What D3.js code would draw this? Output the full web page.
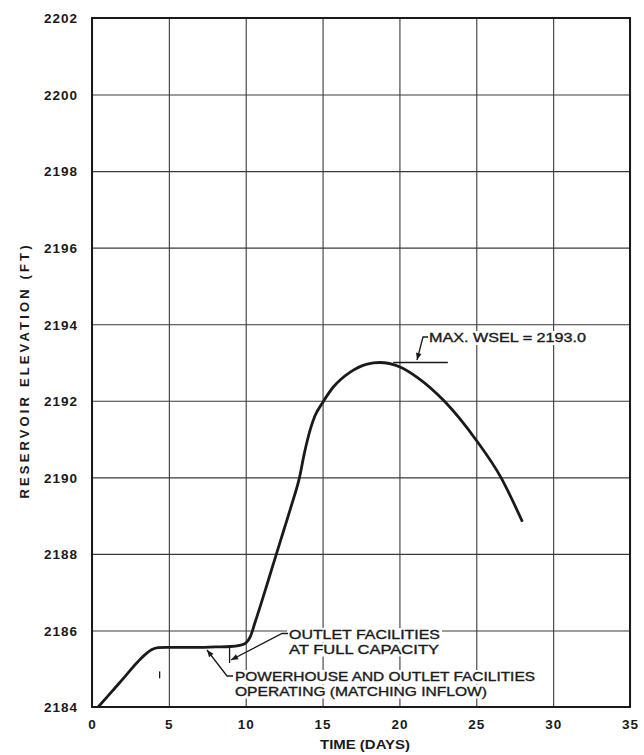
<!DOCTYPE html>
<html><head><meta charset="utf-8">
<script src="https://cdn.jsdelivr.net/npm/d3@7"></script>
<style>
html,body{margin:0;padding:0;background:#fff;}
svg{display:block;}
</style></head>
<body>
<svg id="chart" width="644" height="755"></svg>
<script>
// ---- data ----
const xTicks = [0, 5, 10, 15, 20, 25, 30, 35];
const yTicks = [2184, 2186, 2188, 2190, 2192, 2194, 2196, 2198, 2200, 2202];
const days = [0.4, 1.0, 2.0, 3.0, 3.55, 3.9, 4.3, 4.8, 6.0, 7.0, 8.0, 9.0, 9.6, 10.0, 10.3, 10.6, 11.0, 11.5, 12.0, 12.5, 13.0, 13.5, 13.8, 14.0, 14.5, 15.0, 15.7, 16.8, 17.9, 18.7, 20.0, 21.2, 22.9, 25.0, 26.6, 28.0];
const elev = [2184.0, 2184.27, 2184.73, 2185.19, 2185.40, 2185.5, 2185.55, 2185.56, 2185.56, 2185.56, 2185.57, 2185.58, 2185.61, 2185.67, 2185.84, 2186.2, 2186.7, 2187.35, 2188.0, 2188.65, 2189.3, 2190.0, 2190.6, 2190.95, 2191.6, 2191.95, 2192.36, 2192.75, 2192.96, 2193.0, 2192.89, 2192.6, 2192.0, 2190.97, 2190.0, 2188.84];
const xTitle = "TIME (DAYS)";
const yTitle = "RESERVOIR ELEVATION (FT)";
const maxLabel = "MAX. WSEL = 2193.0";
const outletLabel = ["OUTLET FACILITIES", "AT FULL CAPACITY"];
const powerLabel = ["POWERHOUSE AND OUTLET FACILITIES", "OPERATING  (MATCHING INFLOW)"];
const maxWsel = 2193.0;
const outletDay = 8.95;

// ---- layout ----
const L = 92, R = 630, T = 18, B = 707;
const svg = d3.select("#chart");
const x = d3.scaleLinear().domain([0, 35]).range([L, R]);
const y = d3.scaleLinear().domain([2184, 2202]).range([B, T]);
const font = "'Liberation Sans', Arial, sans-serif";
const ink = "#1a1a1a";

svg.append("defs").append("marker")
  .attr("id", "arr").attr("viewBox", "0 0 10 10").attr("refX", 10).attr("refY", 5)
  .attr("markerWidth", 9).attr("markerHeight", 7).attr("markerUnits", "userSpaceOnUse")
  .attr("orient", "auto")
  .append("path").attr("d", "M0,1 L10,5 L0,9 Z").attr("fill", ink);

// gridlines via axes
const gx = svg.append("g").attr("transform", `translate(0,${B})`)
  .call(d3.axisBottom(x).tickValues(xTicks).tickSize(-(B - T)).tickPadding(14).tickFormat(d3.format("d")));
const gy = svg.append("g").attr("transform", `translate(${L},0)`)
  .call(d3.axisLeft(y).tickValues(yTicks).tickSize(-(R - L)).tickPadding(14).tickFormat(d3.format("d")));
[gx, gy].forEach(g => {
  g.select(".domain").remove();
  g.selectAll(".tick line").attr("stroke", "#3a3a3a").attr("stroke-width", 1.1);
  g.selectAll(".tick text").attr("fill", ink).attr("font-family", font)
    .attr("font-size", 13.5).attr("font-weight", "bold").attr("letter-spacing", 1);
});
gy.selectAll(".tick text").attr("dy", "0.36em");
gx.selectAll(".tick text").attr("dy", "0.6em");

// frame
svg.append("rect").attr("x", L).attr("y", T).attr("width", R - L).attr("height", B - T)
  .attr("fill", "none").attr("stroke", ink).attr("stroke-width", 2);

// curve
const pts = days.map((d, i) => [d, elev[i]]);
svg.append("path").datum(pts)
  .attr("d", d3.line().x(d => x(d[0])).y(d => y(d[1])).curve(d3.curveMonotoneX))
  .attr("fill", "none").attr("stroke", ink).attr("stroke-width", 2.8).attr("stroke-linejoin", "round");

// annotation helpers
function label(lines, x0, y0, widths, lh) {
  const g = svg.append("g");
  lines.forEach((t, i) => {
    g.append("rect").attr("x", x0 - 2).attr("y", y0 + i * lh - 11).attr("width", widths[i] + 4).attr("height", 14).attr("fill", "#fff");
  });
  lines.forEach((t, i) => {
    g.append("text").attr("x", x0).attr("y", y0 + i * lh).text(t)
      .attr("font-family", font).attr("font-size", 12.5).attr("fill", ink)
      .attr("stroke", ink).attr("stroke-width", 0.35)
      .attr("textLength", widths[i]).attr("lengthAdjust", "spacingAndGlyphs");
  });
}
function seg(pts, arrow) {
  const p = svg.append("path").attr("d", d3.line()(pts)).attr("fill", "none")
    .attr("stroke", ink).attr("stroke-width", 1.3);
  if (arrow) p.attr("marker-end", "url(#arr)");
}

// outlet facilities label
label(outletLabel, 289, 639, [151, 150], 14.5);
seg([[x(outletDay), y(2185.58)], [x(outletDay), y(2185.15)]]);
seg([[288, 633.5], [282, 633.5], [231, 660]], true);

// powerhouse label
label(powerLabel, 235, 681, [300, 252], 14.5);
seg([[233, 676], [227, 676], [207, 650]], true);

// small stray mark
seg([[x(4.4), y(2184.93)], [x(4.4), y(2184.75)]]);

// max wsel
seg([[x(19.6), y(maxWsel)], [x(23.15), y(maxWsel)]]);
label([maxLabel], 429, 342, [157], 14);
seg([[428, 337], [423, 337], [417, 360]], true);

// axis titles
svg.append("text").attr("x", 365).attr("y", 749).attr("text-anchor", "middle").text(xTitle)
  .attr("font-family", font).attr("font-size", 12.5).attr("fill", ink).attr("font-weight", "bold")
  .attr("textLength", 90).attr("lengthAdjust", "spacingAndGlyphs");
svg.append("text").attr("transform", "translate(29,372) rotate(-90)").attr("text-anchor", "middle").text(yTitle)
  .attr("font-family", font).attr("font-size", 13).attr("fill", ink).attr("font-weight", "bold")
  .attr("textLength", 253).attr("lengthAdjust", "spacing");
</script>
</body></html>
